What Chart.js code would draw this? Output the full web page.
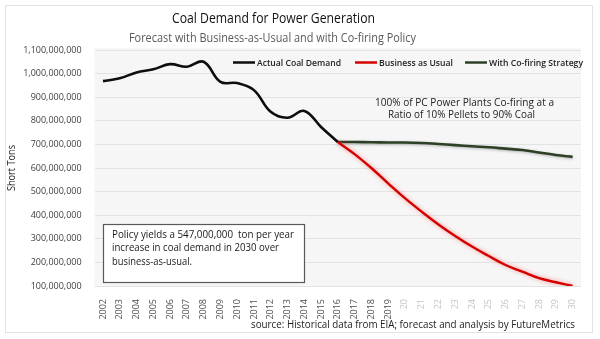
<!DOCTYPE html>
<html>
<head>
<meta charset="utf-8">
<script src="https://cdn.jsdelivr.net/npm/chart.js@4"></script>
<style>
  html, body { margin: 0; padding: 0; background: #fff; }
  #chart { display: block; }
</style>
</head>
<body>
<canvas id="chart" width="600" height="339"></canvas>
<script>
// x categories (the forecast years are shown as two digits in the source)
const yearLabels = ['2002','2003','2004','2005','2006','2007','2008','2009','2010','2011',
  '2012','2013','2014','2015','2016','2017','2018','2019',
  '20','21','22','23','24','25','26','27','28','29','30'];

// historical demand, 2002-2016 (short tons)
const actualDemand = [968000000, 980000000, 1005000000, 1018000000, 1040000000, 1029000000,
  1050000000, 965000000, 960000000, 930000000, 838000000, 813000000, 842000000,
  774000000, 710000000];

// forecasts, 2016-2030
const businessAsUsual = [710000000, 659000000, 600000000, 535000000, 472000000, 415000000,
  361000000, 312000000, 267000000, 227000000, 189000000, 161000000, 133000000,
  116000000, 100000000];
const coFiring = [710000000, 710000000, 709000000, 708000000, 708000000, 706000000,
  702000000, 697000000, 692000000, 688000000, 682000000, 676000000, 666000000,
  655000000, 647000000];

const forecastStart = 14; // index of 2016
const yTicks = [100000000, 1100000000, 100000000]; // min, max, step

const padSeries = (vals, start) => yearLabels.map((_, i) =>
  (i >= start && i < start + vals.length) ? vals[i - start] : null);

const FONT = "'Open Sans', 'Noto Sans', sans-serif";

function fitText(ctx, text, x, y, width, align) {
  const w = ctx.measureText(text).width;
  ctx.save();
  ctx.translate(x, y);
  ctx.scale(width / w, 1);
  ctx.textAlign = align;
  ctx.fillText(text, 0, 0);
  ctx.restore();
}

const decorations = {
  id: 'decorations',
  beforeDraw(chart) {
    const { ctx, chartArea: a } = chart;
    ctx.save();
    ctx.fillStyle = '#ffffff';
    ctx.fillRect(0, 0, chart.width, chart.height);
    ctx.strokeStyle = '#e2e2e2';
    ctx.lineWidth = 1;
    ctx.strokeRect(5.5, 5.5, 587, 327);
    ctx.fillStyle = '#f6f6f6';
    ctx.fillRect(a.left, a.top - 2, a.right - a.left, a.bottom - a.top + 2);
    ctx.restore();
  },
  beforeDatasetDraw(chart, args) {
    const ctx = chart.ctx;
    ctx.save();
    if (args.index === 1) { ctx.shadowColor = 'rgba(255,60,60,0.55)'; ctx.shadowBlur = 4; }
    if (args.index === 2) { ctx.shadowColor = 'rgba(60,60,60,0.35)'; ctx.shadowBlur = 3; ctx.shadowOffsetY = 1; }
  },
  afterDatasetDraw(chart) {
    chart.ctx.restore();
  },
  afterDraw(chart) {
    const ctx = chart.ctx;
    ctx.save();
    ctx.textBaseline = 'middle';

    // titles
    ctx.fillStyle = '#111';
    ctx.font = `15px ${FONT}`;
    fitText(ctx, 'Coal Demand for Power Generation', 273.5, 19, 203, 'center');
    ctx.fillStyle = '#595959';
    ctx.font = `12.5px ${FONT}`;
    fitText(ctx, 'Forecast with Business-as-Usual and with Co-firing Policy', 272.5, 38, 287, 'center');

    // y axis title
    ctx.save();
    ctx.translate(12, 168);
    ctx.rotate(-Math.PI / 2);
    ctx.fillStyle = '#222';
    ctx.font = `10px ${FONT}`;
    fitText(ctx, 'Short Tons', 0, 0, 46, 'center');
    ctx.restore();

    // legend
    const items = [
      { x0: 233, x1: 255, tx: 257, w: 84 },
      { x0: 355, x1: 377, tx: 379, w: 74 },
      { x0: 465, x1: 487, tx: 489, w: 94 }
    ];
    chart.data.datasets.forEach((ds, i) => {
      const it = items[i];
      ctx.strokeStyle = ds.borderColor;
      ctx.lineWidth = 2.5;
      ctx.beginPath();
      ctx.moveTo(it.x0, 62.5);
      ctx.lineTo(it.x1, 62.5);
      ctx.stroke();
      ctx.fillStyle = '#222';
      ctx.font = `600 9px ${FONT}`;
      fitText(ctx, ds.label, it.tx, 63, it.w, 'left');
    });

    // co-firing note
    ctx.fillStyle = '#222';
    ctx.font = `10px ${FONT}`;
    fitText(ctx, '100% of PC Power Plants Co-firing at a', 464.5, 103, 179, 'center');
    fitText(ctx, 'Ratio of 10% Pellets to 90% Coal', 461.5, 115.5, 147, 'center');

    // policy box
    ctx.fillStyle = '#ffffff';
    ctx.fillRect(103, 224, 202, 59);
    ctx.strokeStyle = '#595959';
    ctx.lineWidth = 1.2;
    ctx.strokeRect(103.5, 224.5, 201, 58);
    ctx.fillStyle = '#1a1a1a';
    ctx.font = `10.5px ${FONT}`;
    fitText(ctx, 'Policy yields a 547,000,000  ton per year', 112, 235, 182, 'left');
    fitText(ctx, 'increase in coal demand in 2030 over', 112, 248.5, 167, 'left');
    fitText(ctx, 'business-as-usual.', 112, 262, 80, 'left');

    // source
    ctx.fillStyle = '#222';
    ctx.font = `11px ${FONT}`;
    fitText(ctx, 'source: Historical data from EIA; forecast and analysis by FutureMetrics', 251, 325, 324, 'left');
    ctx.restore();
  }
};

new Chart(document.getElementById('chart'), {
  type: 'line',
  data: {
    labels: yearLabels,
    datasets: [
      {
        label: 'Actual Coal Demand',
        data: padSeries(actualDemand, 0),
        borderColor: '#0d0d0d',
        borderWidth: 2.6,
        tension: 0.4
      },
      {
        label: 'Business as Usual',
        data: padSeries(businessAsUsual, forecastStart),
        borderColor: '#d40000',
        borderWidth: 2.4,
        tension: 0.4
      },
      {
        label: 'With Co-firing Strategy',
        data: padSeries(coFiring, forecastStart),
        borderColor: '#2d3f25',
        borderWidth: 2.6,
        tension: 0.4
      }
    ]
  },
  options: {
    responsive: false,
    animation: false,
    devicePixelRatio: 1,
    layout: { padding: { left: 5, right: 19, top: 50, bottom: 0 } },
    elements: { point: { radius: 0 } },
    plugins: {
      legend: { display: false },
      title: { display: false },
      tooltip: { enabled: false }
    },
    scales: {
      x: {
        offset: true,
        grid: { display: false },
        border: { display: false },
        ticks: {
          autoSkip: false,
          maxRotation: 90,
          minRotation: 90,
          padding: 5,
          font: { family: FONT, size: 9 },
          color: ctx => ctx.index < 18 ? '#505050' : '#c4c4c4'
        },
        afterFit: scale => { scale.height = 53; }
      },
      y: {
        min: yTicks[0],
        max: yTicks[1],
        grid: { color: '#e3e3e3', drawTicks: false },
        border: { display: false },
        ticks: {
          stepSize: yTicks[2],
          padding: 13,
          font: { family: FONT, size: 9 },
          color: '#404040',
          callback: v => v.toLocaleString('en-US')
        },
        afterFit: scale => { scale.width = 89.6; }
      }
    }
  },
  plugins: [decorations]
});
</script>
</body>
</html>
